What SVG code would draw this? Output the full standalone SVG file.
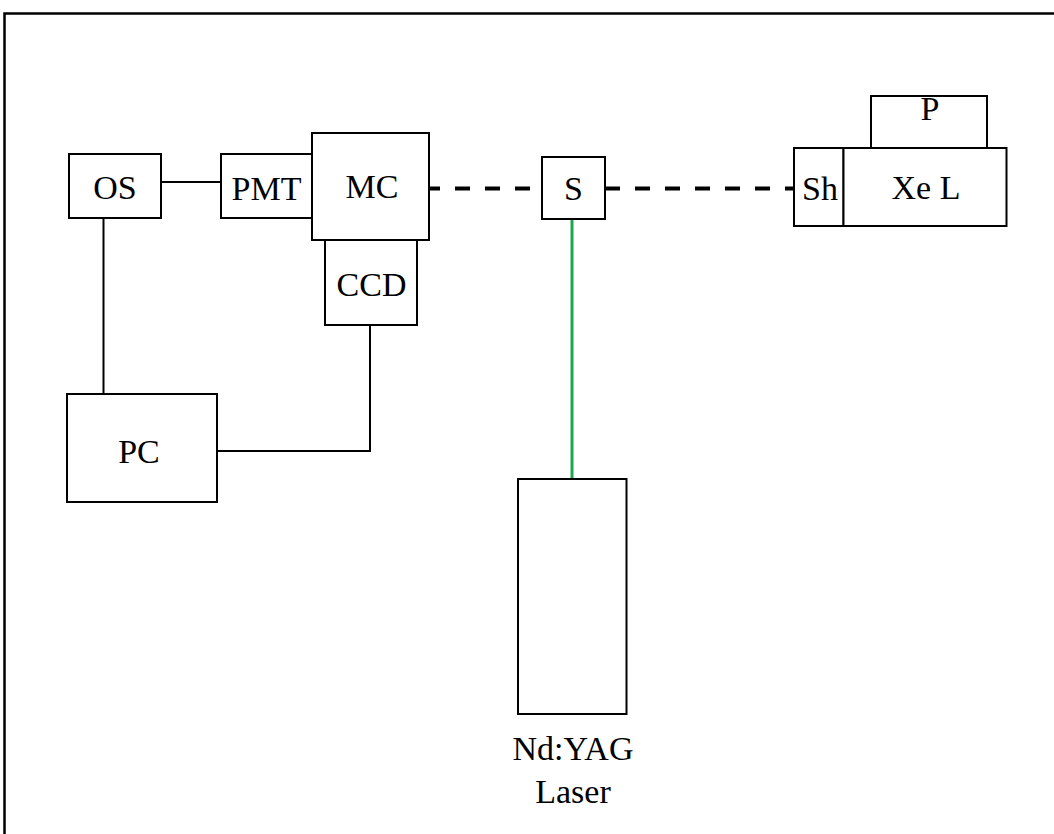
<svg xmlns="http://www.w3.org/2000/svg" width="1054" height="834" viewBox="0 0 1054 834">
<style>
.box{fill:#fff;stroke:#000;stroke-width:2}
.t{font-family:"Liberation Serif","Times New Roman",serif;font-size:34px;fill:#000;text-anchor:middle}
.c{fill:none;stroke:#000;stroke-width:2}
.d{fill:none;stroke:#000;stroke-width:4;stroke-dasharray:15 15}
.g{fill:none;stroke:#1fa64f;stroke-width:3}
</style>
<rect width="1054" height="834" fill="#fff"/>
<path d="M4.5,834 V13.5 H1054" fill="none" stroke="#000" stroke-width="2.5"/>
<g id="connectors">
<line class="c" x1="161" y1="182" x2="221" y2="182"/>
<line class="c" x1="103.5" y1="218" x2="103.5" y2="394"/>
<polyline class="c" points="217,451 370,451 370,325"/>
<line class="d" x1="425" y1="188.5" x2="542" y2="188.5"/>
<line class="d" x1="605" y1="188.5" x2="794" y2="188.5"/>
<line class="g" x1="572" y1="219" x2="572" y2="479"/>
</g>
<g id="OS"><rect class="box" x="69" y="154" width="92" height="64"/><text class="t" x="115" y="199">OS</text></g>
<g id="PMT"><rect class="box" x="221" y="154" width="91" height="64"/><text class="t" x="266.5" y="200">PMT</text></g>
<g id="MC"><rect class="box" x="312" y="133" width="117" height="107"/><text class="t" x="372" y="198">MC</text></g>
<g id="CCD"><rect class="box" x="325" y="240" width="92" height="85"/><text class="t" x="371.5" y="296">CCD</text></g>
<g id="PC"><rect class="box" x="67" y="394" width="150" height="108"/><text class="t" x="139" y="463">PC</text></g>
<g id="S"><rect class="box" x="542" y="157" width="63" height="62"/><text class="t" x="573.5" y="200">S</text></g>
<g id="P"><rect class="box" x="871" y="96" width="116" height="52"/><text class="t" x="930" y="120">P</text></g>
<g id="Sh"><rect class="box" x="794" y="148" width="49.5" height="78"/><text class="t" x="820" y="200">Sh</text></g>
<g id="XeL"><rect class="box" x="843.5" y="148" width="163" height="78"/><text class="t" x="926" y="199">Xe L</text></g>
<g id="Laser"><rect class="box" x="518" y="479" width="108.5" height="235"/><text class="t" x="573" y="760">Nd:YAG</text><text class="t" x="573" y="803">Laser</text></g>
</svg>
